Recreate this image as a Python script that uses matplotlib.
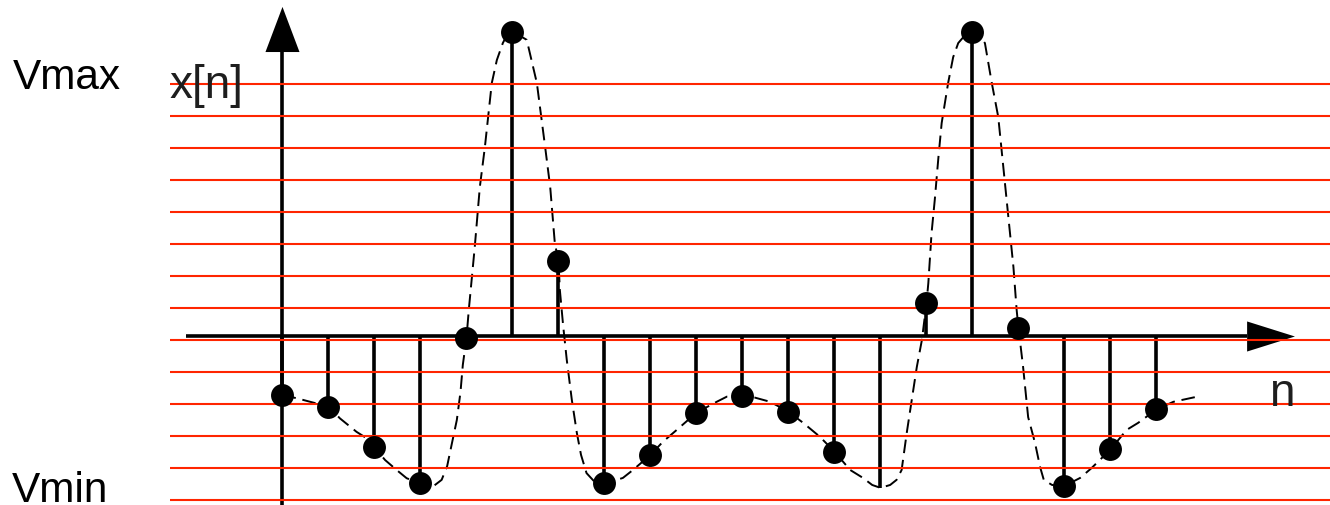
import numpy as np
import matplotlib.pyplot as plt

plt.rcParams['font.family'] = ['Liberation Sans', 'DejaVu Sans']

# échantillons x[n]
n = np.arange(20)
x_n = [-1.83, -2.19, -3.46, -4.59, -0.04, 9.53, 2.36, -4.59, -3.70, -2.38,
       -1.86, -2.35, -3.60, -4.73, 1.04, 9.53, 0.26, -4.67, -3.53, -2.28]
sans_pastille = [13]

# signal continu (pointillés)
t_c = [0.00, 0.31, 0.60, 1.00, 1.25, 1.43, 1.61, 1.83, 2.00, 2.23, 2.48, 2.70,
       3.00, 3.27, 3.46, 3.58, 3.68, 3.79, 3.87, 3.92, 4.00, 4.05, 4.18, 4.29,
       4.40, 4.55, 4.66, 4.79, 4.88, 5.00, 5.10, 5.31, 5.53, 5.71, 5.82, 5.92,
       6.00, 6.03, 6.10, 6.18, 6.29, 6.40, 6.49, 6.61, 6.79, 7.00, 7.18, 7.40,
       7.62, 8.00, 8.27, 8.57, 9.00, 9.44, 9.66, 10.00, 10.27, 10.60, 11.00,
       11.32, 11.68, 12.00, 12.34, 12.62, 12.82, 13.00, 13.21, 13.35, 13.46,
       13.57, 13.68, 13.79, 13.90, 14.00, 14.04, 14.11, 14.18, 14.26, 14.33,
       14.47, 14.58, 14.69, 14.84, 15.00, 15.12, 15.27, 15.42, 15.56, 15.67,
       15.78, 15.89, 15.96, 16.00, 16.10, 16.21, 16.36, 16.47, 16.55, 16.73,
       17.00, 17.34, 17.59, 18.00, 18.35, 18.60, 19.00, 19.37, 19.95]
x_c = [-1.83, -1.93, -2.04, -2.19, -2.56, -2.77, -2.98, -3.18, -3.46, -3.86,
       -4.17, -4.43, -4.59, -4.69, -4.48, -4.05, -3.36, -2.61, -1.73, -0.89,
       -0.04, 0.83, 2.80, 4.67, 5.92, 7.92, 8.64, 9.17, 9.42, 9.53, 9.45, 9.27,
       7.92, 5.92, 4.67, 2.92, 2.36, 1.45, 0.36, -0.73, -1.98, -3.02, -3.70,
       -4.27, -4.55, -4.59, -4.52, -4.42, -4.17, -3.70, -3.29, -2.92, -2.38,
       -2.04, -1.88, -1.86, -1.91, -2.04, -2.35, -2.70, -3.13, -3.60, -4.17,
       -4.42, -4.64, -4.73, -4.64, -4.48, -4.17, -3.02, -1.98, -0.95, -0.11,
       1.04, 1.67, 3.23, 4.27, 5.61, 6.67, 7.92, 8.73, 9.17, 9.42, 9.53, 9.45,
       9.17, 7.92, 6.86, 5.30, 3.73, 2.17, 0.83, 0.26, -0.95, -2.52, -3.33,
       -4.08, -4.48, -4.64, -4.67, -4.42, -4.11, -3.53, -2.92, -2.70, -2.28,
       -2.04, -1.86]

# niveaux de quantification
niveaux = [7.88, 6.88, 5.88, 4.88, 3.88, 2.88, 1.88, 0.88, -0.12, -1.12,
           -2.12, -3.12, -4.12, -5.12]

W, H = 1330, 505
fig = plt.figure(figsize=(W / 100, H / 100), dpi=100)
ax = fig.add_axes([0, 0, 1, 1])
ax.set_xlim(-6.141, 22.772)
ax.set_ylim(-5.266, 10.516)
ax.axis('off')

lw_axe = 2.6
# axe vertical + flèche
ax.plot([0, 0], [-5.4, 8.89], color='k', lw=lw_axe, solid_capstyle='butt', zorder=2)
ax.fill([-0.37, 0.37, 0], [8.89, 8.89, 10.30], color='k', lw=0, zorder=2)
# axe horizontal + flèche
ax.plot([-2.10, 20.97], [0, 0], color='k', lw=lw_axe, solid_capstyle='butt', zorder=2)
ax.fill([20.97, 20.97, 22.01], [0.47, -0.47, 0], color='k', lw=0, zorder=2)

# signal continu
ax.plot(t_c, x_c, color='k', lw=1.4, dashes=(7, 3.5), zorder=2)

# raies des échantillons
ax.vlines(n, 0, x_n, color='k', lw=lw_axe, zorder=2)
avec = [i for i in n if i not in sans_pastille]
ax.plot([n[i] for i in avec], [x_n[i] for i in avec], 'o', color='k',
        ms=16.5, mew=0, zorder=4)

# niveaux
ax.hlines(niveaux, -2.45, 23, color='#ff2500', lw=1.5, zorder=3)

fig.text(13 / W, 1 - 89.5 / H, 'Vmax', fontsize=30.5, va='baseline', color='k')
fig.text(12 / W, 1 - 501.5 / H, 'Vmin', fontsize=30.5, va='baseline', color='k')
fig.text(169 / W, 1 - 97.5 / H, 'x[n]', fontsize=33, va='baseline', color='#1e1e1e', zorder=1)
fig.text(1269 / W, 1 - 406.5 / H, 'n', fontsize=33, va='baseline', color='#1e1e1e')

fig.savefig('out.png', dpi=100, facecolor='white')
